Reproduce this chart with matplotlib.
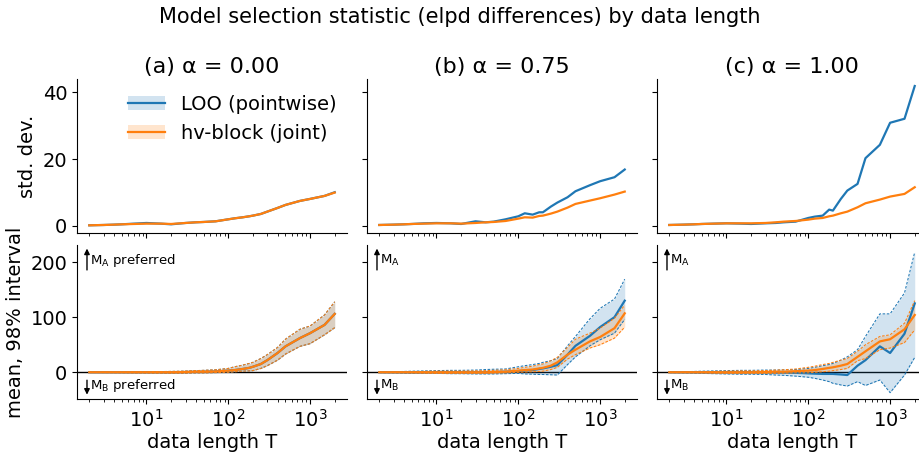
import matplotlib
matplotlib.use("Agg")
import matplotlib.pyplot as plt
from matplotlib.lines import Line2D
from matplotlib.patches import Patch

# ---------------- data ----------------
T = [2, 3, 4, 5, 7, 10, 15, 20, 30, 40, 50, 70, 100, 120, 150, 180, 200, 250, 300,
     400, 500, 750, 1000, 1500, 2000]

panel_titles = ["(a) α = 0.00", "(b) α = 0.75", "(c) α = 1.00"]
series_labels = ["LOO (pointwise)", "hv-block (joint)"]

# std. dev. (top row)
sd_loo_a = [0.2, 0.3, 0.4, 0.5, 0.7, 0.9, 0.7, 0.5, 0.9, 1.1, 1.2, 1.4, 2.0, 2.3, 2.6, 2.9, 3.1, 3.6, 4.3, 5.4, 6.3, 7.5, 8.1, 9.0, 10.1]
sd_hv_a = [0.2, 0.3, 0.4, 0.5, 0.6, 0.7, 0.7, 0.6, 0.9, 1.1, 1.2, 1.4, 2.0, 2.3, 2.6, 2.9, 3.1, 3.6, 4.3, 5.4, 6.3, 7.5, 8.1, 9.0, 10.0]
sd_loo_b = [0.3, 0.4, 0.5, 0.6, 0.8, 0.9, 0.8, 0.6, 1.4, 1.1, 1.3, 2.0, 2.9, 3.8, 3.4, 4.1, 4.1, 5.8, 7.0, 8.6, 10.4, 12.2, 13.4, 14.6, 16.9]
sd_hv_b = [0.3, 0.4, 0.5, 0.6, 0.7, 0.8, 0.8, 0.7, 0.9, 1.1, 1.2, 1.5, 2.2, 2.6, 2.5, 3.0, 3.1, 3.7, 4.3, 5.5, 6.6, 7.6, 8.3, 9.4, 10.3]
sd_loo_c = [0.3, 0.4, 0.5, 0.6, 0.7, 0.8, 0.7, 0.6, 0.8, 0.9, 1.1, 1.3, 2.4, 2.8, 3.1, 4.9, 4.6, 8.1, 10.6, 12.6, 20.3, 24.3, 30.9, 32.1, 41.9]
sd_hv_c = [0.3, 0.4, 0.5, 0.6, 0.7, 0.8, 0.8, 0.8, 0.9, 1.1, 1.3, 1.5, 1.9, 2.2, 2.4, 2.9, 3.1, 3.8, 4.3, 5.6, 6.8, 7.9, 8.8, 9.6, 11.6]

# mean and 98% interval (bottom row)
mean_loo_a = [0, 0, 0, 0, 0, 0, 0, 0, 0.5, 1, 1, 1.5, 3, 4, 6, 8, 10, 15, 22, 35, 47, 62, 71, 86, 106]
hi_loo_a = [0.4, 0.5, 0.6, 0.7, 0.9, 1.1, 1.3, 1.6, 2.1, 3, 3.5, 4.5, 7, 10, 13, 16, 18, 25, 32, 45, 60, 78, 84, 104, 128]
lo_loo_a = [-0.4, -0.5, -0.6, -0.7, -0.9, -1.1, -1.3, -1.6, -1.6, -1, -1, -0.5, 0, 1, 2, 2.5, 3, 7, 12, 22, 33, 47, 52, 68, 81]
mean_hv_a = [0, 0, 0, 0, 0, 0, 0, 0, 0.5, 1, 1, 1.5, 3, 4, 6, 8, 10, 15, 22, 35, 47, 62, 71, 86, 106]
hi_hv_a = [0.3, 0.4, 0.5, 0.6, 0.8, 1, 1.2, 1.5, 2, 3, 3.5, 4.5, 7, 10, 13, 16, 18, 25, 32, 45, 60, 78, 84, 104, 128]
lo_hv_a = [-0.3, -0.4, -0.5, -0.6, -0.8, -1, -1.2, -1.5, -1.5, -1, -1, -0.5, 0, 1, 2, 2.5, 3, 7, 12, 22, 33, 47, 52, 68, 81]

mean_loo_b = [0, 0, 0, 0, 0, 0, 0, 0, 0, 0, 0.5, 1, 2, 3, 4, 6, 7, 10, 13, 32, 48, 66, 82, 100, 130]
hi_loo_b = [0.6, 1, 1.5, 2, 2.5, 3, 3.5, 3.5, 4, 5, 5.5, 6, 10, 12, 14, 16, 18, 21, 25, 48, 65, 97, 116, 133, 169]
lo_loo_b = [-0.6, -1, -1.5, -2, -2, -2, -2.5, -2.5, -3, -3, -3, -2.5, -2, -3, -3.5, -4, -4, -4.5, -5, 14, 28, 48, 59, 71, 96]
mean_hv_b = [0, 0, 0, 0, 0, 0, 0, 0, 0, 0, 0.5, 1, 3, 4, 5, 7, 8, 12, 18, 32, 41, 56, 64, 80, 107]
hi_hv_b = [0.3, 0.5, 0.7, 1, 1.5, 2, 2, 2, 2.5, 3, 3.5, 4.5, 7, 9, 11, 14, 15, 21, 27, 45, 60, 71, 80, 98, 122]
lo_hv_b = [-0.3, -0.5, -0.7, -1, -1.5, -2, -2, -2, -2, -2, -1.5, -1, 0, 0.5, 1, 1.5, 2, 5, 9, 24, 32, 44, 50, 62, 82]

mean_loo_c = [0, 0, 0, 0, 0, 0, 0, 0, 0, -0.5, -0.5, -1, -2, -2.5, -3, -3, -3, -4, -5, 12, 22, 47, 35, 70, 125]
hi_loo_c = [0.6, 1, 1.5, 2, 2.5, 3, 3.5, 3.5, 4, 4, 4.5, 5, 7, 9, 12, 14, 16, 22, 28, 41, 65, 106, 106, 144, 218]
lo_loo_c = [-0.6, -1, -1.5, -2, -2.5, -3, -3.5, -3.5, -4, -5, -5.5, -7, -9, -11, -14, -17, -20, -23, -25, -17, -24, -14, -37, -5, 27]
mean_hv_c = [0, 0, 0, 0, 0, 0, 0, 0, 0.5, 1, 1, 2, 3, 4, 6, 8, 9, 12, 15, 28, 38, 56, 60, 78, 104]
hi_hv_c = [0.3, 0.5, 0.7, 1, 1.5, 2, 2.5, 2.5, 3, 4, 4.5, 6, 9, 11, 14, 16, 18, 22, 25, 38, 50, 65, 68, 89, 130]
lo_hv_c = [-0.3, -0.5, -0.7, -1, -1.5, -2, -2, -2, -2, -2, -1.5, -1, -1, 0, 1, 2, 3, 5, 7, 21, 25, 41, 44, 54, 77]

sd_sets = [(sd_loo_a, sd_hv_a), (sd_loo_b, sd_hv_b), (sd_loo_c, sd_hv_c)]
mean_sets = [
    ((mean_loo_a, lo_loo_a, hi_loo_a), (mean_hv_a, lo_hv_a, hi_hv_a)),
    ((mean_loo_b, lo_loo_b, hi_loo_b), (mean_hv_b, lo_hv_b, hi_hv_b)),
    ((mean_loo_c, lo_loo_c, hi_loo_c), (mean_hv_c, lo_hv_c, hi_hv_c)),
]

colors = ["#1f77b4", "#ff7f0e"]

# ---------------- figure ----------------
plt.rcParams["font.family"] = ["DejaVu Sans"]
fig = plt.figure(figsize=(9.2, 4.54), dpi=100)

W, H = 920.0, 454.0
lefts = [77, 367, 657]
aw = 270
top_rows = (79, 233)
bot_rows = (245, 399)

axes_top, axes_bot = [], []
for i, lx in enumerate(lefts):
    at = fig.add_axes([lx / W, 1 - top_rows[1] / H, aw / W, (top_rows[1] - top_rows[0]) / H])
    ab = fig.add_axes([lx / W, 1 - bot_rows[1] / H, aw / W, (bot_rows[1] - bot_rows[0]) / H])
    axes_top.append(at)
    axes_bot.append(ab)

dash = (0, (2.5, 1.5))
for i in range(3):
    at, ab = axes_top[i], axes_bot[i]
    # top: std dev
    for s, c in zip(sd_sets[i], colors):
        at.plot(T, s, color=c, lw=1.6)
    # bottom: mean and interval
    ab.axhline(0, color="black", lw=1.0, zorder=1)
    for (m, lo, hi), c in zip(mean_sets[i], colors):
        ab.fill_between(T, lo, hi, color=c, alpha=0.2, lw=0)
        ab.plot(T, lo, color=c, lw=0.75, ls=dash)
        ab.plot(T, hi, color=c, lw=0.75, ls=dash)
        ab.plot(T, m, color=c, lw=1.6)

    for ax in (at, ab):
        ax.set_xscale("log")
        ax.spines["top"].set_visible(False)
        ax.spines["right"].set_visible(False)
        ax.tick_params(labelsize=14)
        ax.set_xlim(10 ** 0.151, 10 ** 3.451)
    at.set_ylim(-2.1, 44.0)
    ab.set_ylim(-48.5, 231)
    at.set_yticks([0, 20, 40])
    ab.set_yticks([0, 100, 200])
    at.tick_params(axis="x", labelbottom=False)
    if i > 0:
        at.tick_params(axis="y", labelleft=False)
        ab.tick_params(axis="y", labelleft=False)
    at.set_title(panel_titles[i], fontsize=16, pad=4)
    ab.set_xlabel("data length T", fontsize=14, labelpad=2)

    up_txt = r"M$_\mathrm{A}$ preferred" if i == 0 else r"M$_\mathrm{A}$"
    dn_txt = r"M$_\mathrm{B}$ preferred" if i == 0 else r"M$_\mathrm{B}$"
    ab.annotate("", xy=(0.037, 0.995), xytext=(0.037, 0.82), xycoords="axes fraction",
                arrowprops=dict(arrowstyle="-|>", color="black", lw=1, mutation_scale=8))
    ab.annotate("", xy=(0.037, 0.01), xytext=(0.037, 0.14), xycoords="axes fraction",
                arrowprops=dict(arrowstyle="-|>", color="black", lw=1, mutation_scale=8))
    ab.text(0.05, 0.90, up_txt, transform=ab.transAxes, fontsize=9.5, va="center", ha="left")
    ab.text(0.05, 0.09, dn_txt, transform=ab.transAxes, fontsize=9.5, va="center", ha="left")

axes_top[0].set_ylabel("std. dev.", fontsize=14)
axes_bot[0].set_ylabel("mean, 98% interval", fontsize=14)

handles = [(Patch(facecolor=c, alpha=0.2, edgecolor="none"), Line2D([], [], color=c, lw=1.6)) for c in colors]
axes_top[0].legend(handles, series_labels, loc="upper left", bbox_to_anchor=(0.125, 1.01),
                   frameon=False, fontsize=14, handlelength=1.9)

fig.suptitle("Model selection statistic (elpd differences) by data length", fontsize=15, y=0.985)

fig.savefig("out.png", dpi=100)
